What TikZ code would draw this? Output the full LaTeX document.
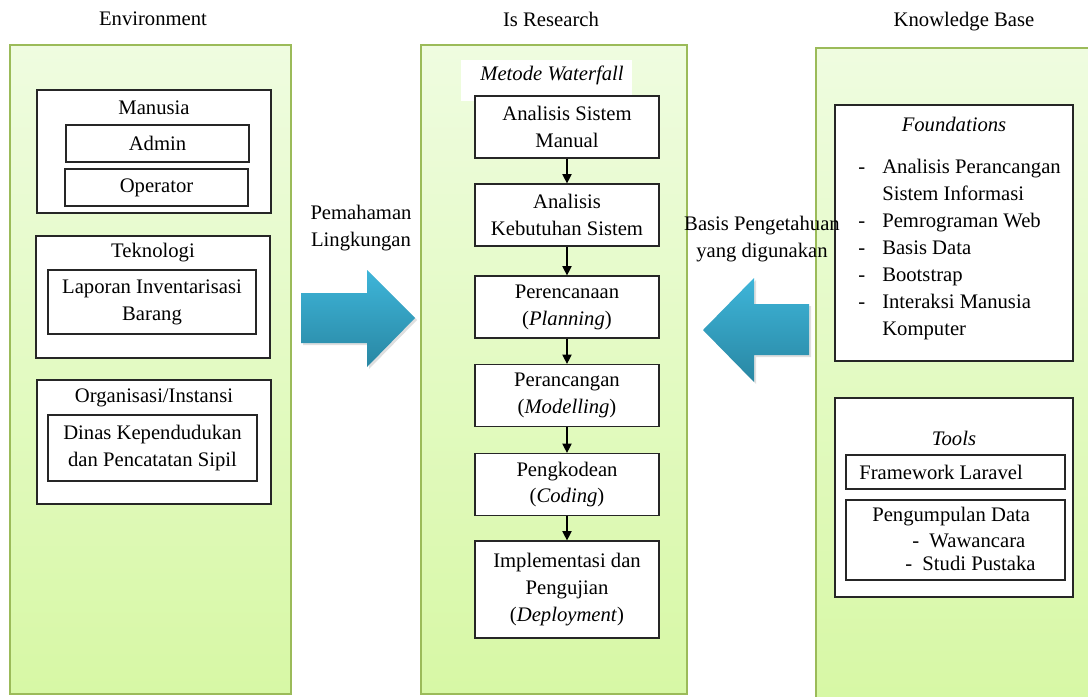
\documentclass[tikz,border=0pt]{standalone}
\usepackage{fontspec}
\setmainfont{Liberation Serif}
\usetikzlibrary{positioning,arrows.meta,shadows}
\definecolor{panelline}{HTML}{9BBB59}
\definecolor{paneltop}{HTML}{EFFCE0}
\definecolor{panelbot}{HTML}{D7F8A5}
\definecolor{arrowtop}{HTML}{3EB5D9}
\definecolor{arrowbot}{HTML}{2987A3}
\newcommand{\txt}{\fontsize{15.5}{20.2}\selectfont}

\begin{document}
\begin{tikzpicture}[x=0.75pt, y=-0.75pt,
        every node/.style={font=\txt},
        panel/.style={draw=panelline, line width=2.2pt, top color=paneltop,
        bottom color=panelbot},
        group/.style={rectangle, draw=black!85, fill=white, line width=0.9pt,
        inner sep=0pt},
        item/.style={group, align=center},
        stage/.style={group, align=center, minimum width=138pt,
        minimum height=46.5pt},
        flow/.style={-{Triangle[length=7pt, width=7pt]}, line width=0.9pt},
        bigarrow/.style={top color=arrowtop, bottom color=arrowbot,
        drop shadow={opacity=0.25, shadow xshift=1.5pt, shadow yshift=-1.5pt}},
      ]
      \useasboundingbox (0,0) rectangle (1088,696);

      \path[panel] (10,45) rectangle (291,694);
      \path[panel] (421,45) rectangle (687,694);
      \path[panel] (816,48) rectangle (1096,700);

      \node (env) at (153,19) {Environment};
      \node (isr) at (551,19) {Is Research};
      \node (kb) at (964,22) {Knowledge Base};

      % environment
      \node[group, minimum width=175.5pt, minimum height=92.25pt] (manusia)
      at (154,151.5) {};
      \node (manusiat) at (154,108) {Manusia};
      \node[item, minimum width=137.25pt, minimum height=27.75pt] (admin)
      at (157.5,143.5) {Admin};
      \node[item, minimum width=137.25pt, minimum height=27.75pt] (operator)
      at (156.5,187.5) {Operator};

      \node[group, minimum width=175.5pt, minimum height=91.5pt] (tekno)
      at (153,297) {};
      \node (teknot) at (153,253) {Teknologi};
      \node[item, minimum width=156pt, minimum height=48pt] (laporan)
      at (152,302) {Laporan Inventarisasi\\Barang};

      \node[group, minimum width=175.5pt, minimum height=93pt] (org)
      at (154,442) {};
      \node (orgt) at (154,398) {Organisasi/Instansi};
      \node[item, minimum width=156.75pt, minimum height=49.5pt] (dinas)
      at (152.5,448) {Dinas Kependudukan\\dan Pencatatan Sipil};

      % big arrows
      \path[bigarrow] (301,293) -- (367,293) -- (367,270) -- (415,318)
      -- (367,367) -- (367,343) -- (301,343) -- cycle;
      \path[bigarrow] (809,304) -- (754,304) -- (754,278) -- (703,330)
      -- (754,382) -- (754,355) -- (809,355) -- cycle;
      \node[align=center] (pemahaman) at (361,228.5) {Pemahaman\\Lingkungan};

      % waterfall
      \node[fill=white, inner sep=0pt, minimum width=128.25pt,
      minimum height=30.75pt] (metodebg) at (546.5,80.5) {};
      \node (metode) at (552,75) {\textit{Metode Waterfall}};
      \node[stage] (s1) at (567,127) {Analisis Sistem\\Manual};
      \node[stage] (s2) at (567,215) {Analisis\\Kebutuhan Sistem};
      \node[stage] (s3) at (567,307) {Perencanaan\\(\textit{Planning})};
      \node[stage] (s4) at (567,395.5) {Perancangan\\(\textit{Modelling})};
      \node[stage] (s5) at (567,484.5) {Pengkodean\\(\textit{Coding})};
      \node[stage, minimum height=72.75pt] (s6) at (567,589.5)
      {Implementasi dan\\Pengujian\\(\textit{Deployment})};
      \foreach \a/\b in {s1/s2, s2/s3, s3/s4, s4/s5, s5/s6}
      \draw[flow] (\a) -- (\b);

      % knowledge base
      \node[group, minimum width=178.5pt, minimum height=192pt] (found)
      at (954,233) {};
      \node (foundt) at (954,124) {\textit{Foundations}};
      \node[anchor=west, inner sep=0pt] (foundlist) at (858,249)
      {\begin{tabular}{@{}p{18pt}@{}l@{}}
          - & Analisis Perancangan\\
            & Sistem Informasi\\
          - & Pemrograman Web\\
          - & Basis Data\\
          - & Bootstrap\\
          - & Interaksi Manusia\\
            & Komputer
        \end{tabular}};

      \node[group, minimum width=178.5pt, minimum height=149.25pt] (tools)
      at (954,497.5) {};
      \node (toolst) at (954,438) {\textit{Tools}};
      \node[group, minimum width=164.25pt, minimum height=25.5pt] (laravel)
      at (955.5,472) {};
      \node[anchor=west, inner sep=0pt] (laravelt) at (859,472)
      {Framework Laravel};
      \node[group, minimum width=164.25pt, minimum height=60pt] (kumpul)
      at (955.5,540) {};
      \node[anchor=west, inner sep=0pt] (kumpult) at (872,517)
      {Pengumpulan Data};
      \node[anchor=west, inner sep=0pt] (wawancara) at (912,541)
      {-\ \ Wawancara};
      \node[anchor=west, inner sep=0pt] (pustaka) at (905,563)
      {-\ \ Studi Pustaka};

      \node[align=center] (basis) at (762,239.5)
      {Basis Pengetahuan\\yang digunakan};
    \end{tikzpicture}
\end{document}
